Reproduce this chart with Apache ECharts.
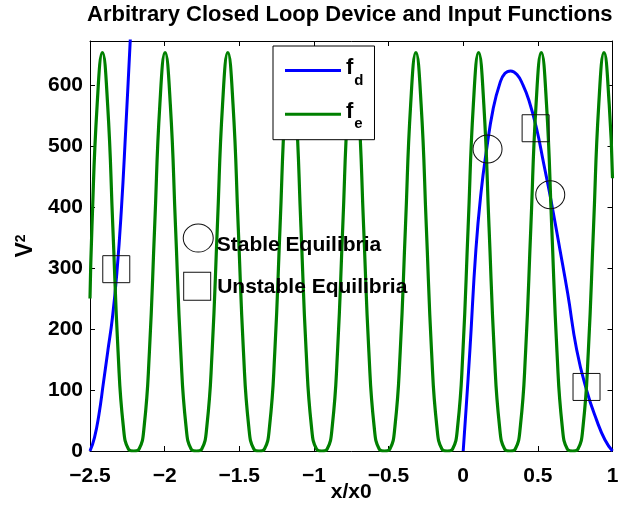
<!DOCTYPE html>
<html>
<head>
<meta charset="utf-8">
<script src="https://cdn.jsdelivr.net/npm/echarts@6/dist/echarts.min.js"></script>
<style>
html,body{margin:0;padding:0;background:#fff;}
#chart{width:623px;height:506px;}
</style>
</head>
<body>
<div id="chart"></div>
<script>
// ---- data ----
const titleText = 'Arbitrary Closed Loop Device and Input Functions';
const xTicks = [-2.5, -2, -1.5, -1, -0.5, 0, 0.5, 1];
const yTicks = [0, 100, 200, 300, 400, 500, 600];

// f_e (green) samples
const feX = [-2.5, -2.487, -2.452,
  -2.417, -2.382, -2.347, -2.312, -2.277, -2.242, -2.207, -2.172, -2.137, -2.102, -2.067, -2.032,
  -1.997, -1.962, -1.927, -1.892, -1.857, -1.822, -1.787, -1.752, -1.717, -1.682, -1.647, -1.612,
  -1.577, -1.542, -1.507, -1.472, -1.437, -1.402, -1.367, -1.332, -1.297, -1.262, -1.227, -1.192,
  -1.157, -1.122, -1.087, -1.052, -1.017, -0.982, -0.947, -0.912, -0.877, -0.842, -0.807, -0.772,
  -0.737, -0.702, -0.667, -0.632, -0.597, -0.562, -0.527, -0.492, -0.457, -0.422, -0.387, -0.352,
  -0.317, -0.282, -0.247, -0.212, -0.177, -0.142, -0.107, -0.072, -0.037, -0.002, 0.033, 0.068,
  0.103, 0.138, 0.173, 0.208, 0.243, 0.278, 0.313, 0.348, 0.383, 0.418, 0.453, 0.488,
  0.523, 0.558, 0.593, 0.628, 0.663, 0.698, 0.733, 0.768, 0.803, 0.838, 0.873, 0.908,
  0.943, 0.978, 1.0];
const feY = [250, 367, 568,
  653, 568, 367, 163, 41, 3, 0, 3, 41, 163, 367, 568,
  653, 568, 367, 163, 41, 3, 0, 3, 41, 163, 367, 568,
  653, 568, 367, 163, 41, 3, 0, 3, 41, 163, 367, 568,
  653, 568, 367, 163, 41, 3, 0, 3, 41, 163, 367, 568,
  653, 568, 367, 163, 41, 3, 0, 3, 41, 163, 367, 568,
  653, 568, 367, 163, 41, 3, 0, 3, 41, 163, 367, 568,
  653, 568, 367, 163, 41, 3, 0, 3, 41, 163, 367, 568,
  653, 568, 367, 163, 41, 3, 0, 3, 41, 163, 367, 568,
  653, 568, 447];

// f_d (blue) left branch
const fdLeftX = [-2.5, -2.47, -2.44, -2.41, -2.38, -2.35, -2.32, -2.29, -2.26, -2.23, -2.2];
const fdLeftY = [0, 22, 60, 112, 165, 218, 292, 395, 530, 675, 820];
// f_d (blue) right branch
const fdRightX = [0, 0.02, 0.045, 0.085, 0.12, 0.156, 0.2, 0.246, 0.28, 0.318, 0.36, 0.4, 0.44, 0.491, 0.54, 0.581, 0.648, 0.7, 0.76, 0.826, 0.893, 0.95, 1.0];
const fdRightY = [0, 72, 166, 330, 425, 493, 560, 603, 619, 623, 617, 600, 575, 529, 470, 420, 330, 258, 166, 100, 51, 18, 0];

// equilibria markers
const stableX = [0.163, 0.583];
const stableY = [495, 420];
const unstableX = [-2.324, 0.485, 0.826];
const unstableY = [298, 529, 105];

// in-plot key
const keyX = [-1.775, -1.782];
const keyY = [349, 270];
const keyLabels = ['Stable Equilibria', 'Unstable Equilibria'];

// ---- chart ----
const FF = "'Liberation Sans', Arial, Helvetica, sans-serif";
const zip = (xs, ys) => xs.map((x, i) => [x, ys[i]]);
const fmtX = v => String(v).replace('-', '\u2212');

const markerStyle = {color: 'rgba(0,0,0,0)', borderColor: '#111', borderWidth: 1, opacity: 1};

const chart = echarts.init(document.getElementById('chart'), null, {renderer: 'canvas'});
const option = {
  animation: false,
  backgroundColor: '#fff',
  title: {
    text: titleText, left: 87, top: 4, padding: 0,
    textStyle: {fontSize: 22, fontWeight: 'bold', color: '#000', fontFamily: FF}
  },
  grid: {left: 90, right: 10.5, top: 41, bottom: 55, containLabel: false, outerBoundsMode: 'none'},
  legend: {
    data: ['fd', 'fe'],
    orient: 'vertical', left: 273, top: 46,
    padding: [7, 11, 8, 12], itemGap: 8.7,
    itemWidth: 56, itemHeight: 3, icon: 'rect',
    backgroundColor: '#fff', borderColor: '#000', borderWidth: 1, borderRadius: 0,
    selectedMode: false,
    formatter: n => n === 'fd' ? '{f|f}{d|d}' : '{f|f}{d|e}',
    textStyle: {
      color: '#000', fontFamily: FF,
      rich: {
        f: {fontSize: 22, fontWeight: 'bold', color: '#000', fontFamily: FF, padding: [0, 0, 5, 0], lineHeight: 22},
        d: {fontSize: 15, fontWeight: 'bold', color: '#000', fontFamily: FF, padding: [20, 0, 0, 1], lineHeight: 15}
      }
    }
  },
  xAxis: [{
    type: 'value', min: -2.5, max: 1, interval: 0.5, position: 'bottom',
    name: 'x/x0', nameLocation: 'middle', nameGap: 31, nameMoveOverlap: false,
    nameTextStyle: {fontSize: 21, fontWeight: 'bold', color: '#000', fontFamily: FF},
    axisLine: {onZero: false, lineStyle: {color: '#000', width: 1}},
    axisTick: {inside: true, length: 5, lineStyle: {color: '#000'}},
    axisLabel: {margin: 15, fontSize: 21, fontWeight: 'bold', color: '#000', fontFamily: FF,
      formatter: v => xTicks.includes(v) ? fmtX(v) : ''},
    splitLine: {show: false}
  }, {
    type: 'value', min: -2.5, max: 1, interval: 0.5, position: 'top',
    axisLine: {onZero: false, lineStyle: {color: '#000', width: 1}},
    axisTick: {inside: true, length: 5, lineStyle: {color: '#000'}},
    axisLabel: {show: false}, splitLine: {show: false}
  }],
  yAxis: [{
    type: 'value', min: 0, max: 672, interval: 100, position: 'left',
    name: '{v|V}{s|2}', nameLocation: 'middle', nameGap: 52, nameRotate: 90, nameMoveOverlap: false,
    nameTextStyle: {
      color: '#000', fontFamily: FF,
      rich: {
        v: {fontSize: 23, fontWeight: 'bold', color: '#000', fontFamily: FF},
        s: {fontSize: 14, fontWeight: 'bold', color: '#000', fontFamily: FF, padding: [0, 0, 10, 0]}
      }
    },
    axisLine: {onZero: false, lineStyle: {color: '#000', width: 1}},
    axisTick: {inside: true, length: 5, lineStyle: {color: '#000'}},
    axisLabel: {margin: 7, fontSize: 21, fontWeight: 'bold', color: '#000', fontFamily: FF,
      showMaxLabel: false, formatter: v => yTicks.includes(v) ? String(v) : ''},
    splitLine: {show: false}
  }, {
    type: 'value', min: 0, max: 672, interval: 100, position: 'right',
    axisLine: {onZero: false, lineStyle: {color: '#000', width: 1}},
    axisTick: {inside: true, length: 5, lineStyle: {color: '#000'}},
    axisLabel: {show: false}, splitLine: {show: false}
  }],
  series: [
    {name: 'fd', type: 'line', data: zip(fdLeftX, fdLeftY), smooth: true, showSymbol: false, symbol: 'none',
      color: '#0000ff', lineStyle: {color: '#0000ff', width: 3}, clip: true, z: 2},
    {name: 'fd', type: 'line', data: zip(fdRightX, fdRightY), smooth: true, showSymbol: false, symbol: 'none',
      color: '#0000ff', lineStyle: {color: '#0000ff', width: 3}, clip: true, z: 2},
    {name: 'fe', type: 'line', data: zip(feX, feY), smooth: true, showSymbol: false, symbol: 'none',
      color: '#008000', lineStyle: {color: '#008000', width: 3.2}, clip: true, z: 3},
    {name: 'stable', type: 'scatter', data: zip(stableX, stableY), symbol: 'circle', symbolSize: [29, 28],
      itemStyle: markerStyle, z: 5, silent: true},
    {name: 'unstable', type: 'scatter', data: zip(unstableX, unstableY), symbol: 'rect', symbolSize: [27, 27],
      itemStyle: markerStyle, z: 5, silent: true},
    {name: 'key', type: 'scatter', z: 5, silent: true,
      data: keyX.map((x, i) => ({
        value: [x, keyY[i]],
        symbol: i === 0 ? 'circle' : 'rect',
        symbolSize: i === 0 ? [30, 28] : [27, 28],
        label: {show: true, formatter: keyLabels[i], position: 'right', opacity: 1,
          distance: i === 0 ? 3 : 6, offset: i === 0 ? [0, 7] : [0, 1],
          fontSize: 21, fontWeight: 'bold', color: '#000', fontFamily: FF}
      })),
      itemStyle: markerStyle}
  ]
};
chart.setOption(option);
</script>
</body>
</html>
